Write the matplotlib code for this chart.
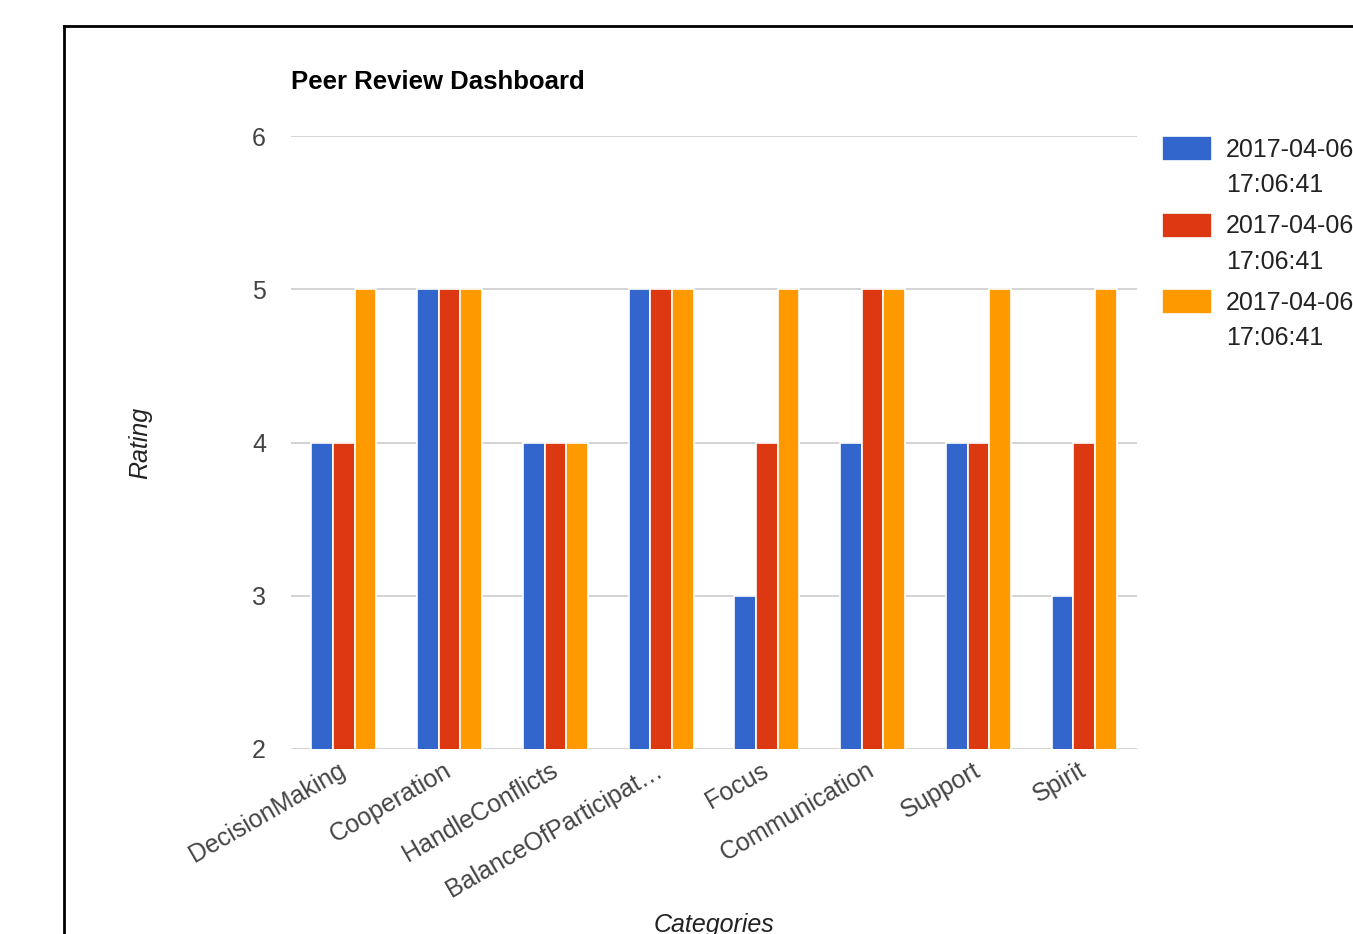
import numpy as np
import matplotlib
matplotlib.use('Agg')
import matplotlib.pyplot as plt
from matplotlib.patches import Rectangle
from matplotlib.legend_handler import HandlerPatch, update_from_first_child
from matplotlib.container import BarContainer
from matplotlib.lines import Line2D

plt.rcParams['font.family'] = ['Liberation Sans', 'DejaVu Sans']

# data
categories = ['DecisionMaking', 'Cooperation', 'HandleConflicts', 'BalanceOfParticipat\u2026',
              'Focus', 'Communication', 'Support', 'Spirit']
series_names = ['2017-04-06\n17:06:41', '2017-04-06\n17:06:41', '2017-04-06\n17:06:41']
review_1 = [4, 5, 4, 5, 3, 4, 4, 3]
review_2 = [4, 5, 4, 5, 4, 5, 4, 4]
review_3 = [5, 5, 4, 5, 5, 5, 5, 5]
colors = ['#3366CC', '#DC3912', '#FF9900']

fig = plt.figure(figsize=(13.53, 9.34), dpi=100)
ax = fig.add_axes([291/1353, 1-749/934, 846/1353, 613/934])

x = np.arange(len(categories))
w = 0.205
for i, vals in enumerate([review_1, review_2, review_3]):
    ax.bar(x + (i-1)*w, vals, width=w, color=colors[i], edgecolor='white',
           linewidth=1.2, label=series_names[i], zorder=3)

ax.set_xlim(-0.5, len(categories)-0.5)
ax.set_ylim(2, 6)
ax.set_yticks([2, 3, 4, 5, 6])
ax.grid(axis='y', color='#cccccc', linewidth=1.2, zorder=0)
for s in ax.spines.values():
    s.set_visible(False)
ax.tick_params(length=0, labelsize=18, labelcolor='#444444')
ax.tick_params(axis='y', pad=18)
ax.set_xticks(x)
ax.set_xticklabels(categories, rotation=30, ha='right', rotation_mode='anchor', va='center')
ax.tick_params(axis='x', pad=14)

ax.set_ylabel('Rating', fontsize=18, style='italic', color='#222222')
ax.yaxis.set_label_coords((152-291)/846, 0.5)
ax.set_xlabel('Categories', fontsize=18, style='italic', color='#222222')
ax.xaxis.set_label_coords(0.5, (749-913)/613)

fig.text(291/1353, 1-82/934, 'Peer Review Dashboard', fontsize=18.5, fontweight='bold',
         va='center', ha='left')

# legend swatch drawn at the top line of the two-line label
def top_patch(legend, orig_handle, xdescent, ydescent, width, height, fontsize):
    h = 1.0*fontsize
    return Rectangle((-xdescent, -ydescent + height - h + 8), width, h)

leg = ax.legend(loc='upper left', bbox_to_anchor=(1162/1353, 1-138/934),
                bbox_transform=fig.transFigure, frameon=False, fontsize=18,
                handlelength=2.0, handleheight=2.35, handletextpad=0.55,
                labelspacing=0.68, borderaxespad=0, borderpad=0,
                handler_map={BarContainer: HandlerPatch(patch_func=top_patch,
                                                        update_func=update_from_first_child)})
for t in leg.get_texts():
    t.set_color('#222222')
    t.set_linespacing(1.6)

# outer frame
fig.add_artist(Line2D([64/1353, 64/1353], [0, 1-26/934], color='black', linewidth=2,
                      transform=fig.transFigure))
fig.add_artist(Line2D([64/1353, 1], [1-26/934, 1-26/934], color='black', linewidth=2,
                      transform=fig.transFigure))

plt.savefig('out.png', dpi=100)
